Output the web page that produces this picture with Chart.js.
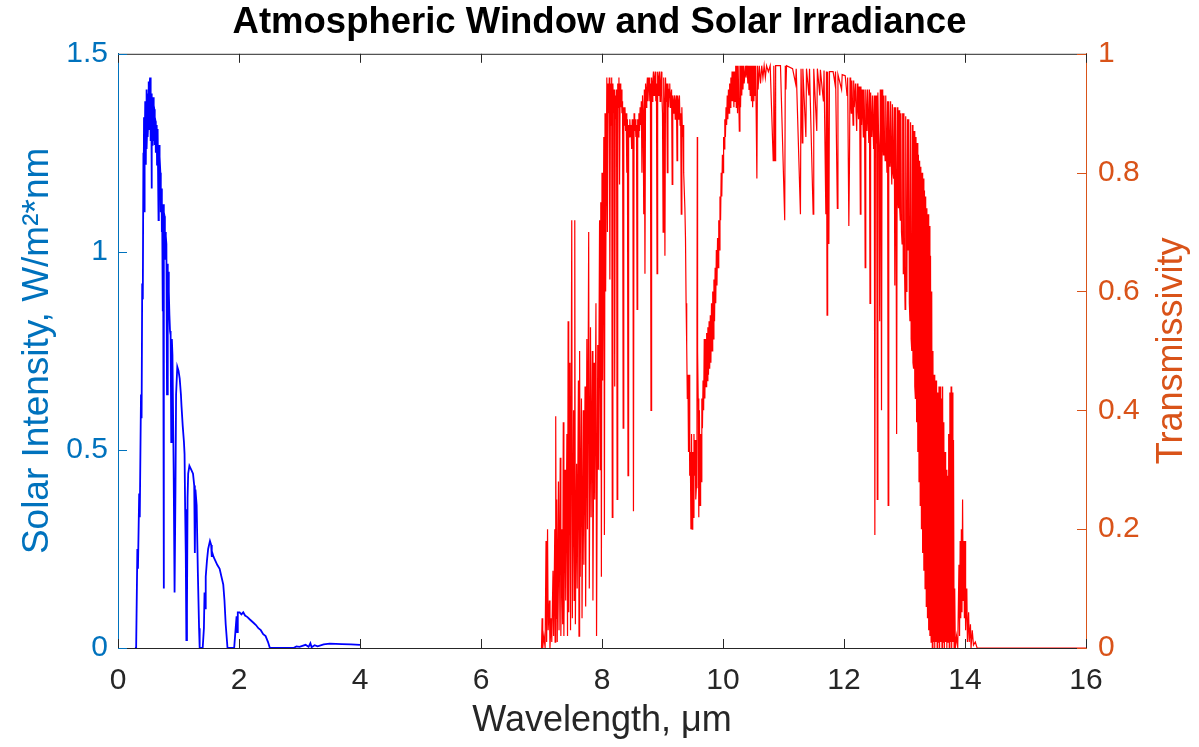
<!DOCTYPE html>
<html>
<head>
<meta charset="utf-8">
<script src="https://cdn.jsdelivr.net/npm/chart.js@4.4.1/dist/chart.umd.min.js"></script>
<style>
  body { margin: 0; background: #fff; }
  #wrap { width: 1199px; height: 747px; }
</style>
</head>
<body>
<div id="wrap"><canvas id="atmChart"></canvas></div>
<script>
// solar irradiance, [wavelength um, W/m^2*nm]
var solarData = [
  [0.28,0],[0.30,0],[0.32,0.25],[0.33,0.20],[0.35,0.39],[0.36,0.33],[0.38,0.64],[0.39,0.58],[0.40,0.92],[0.41,0.88],
  [0.42,1.25],[0.425,1.18],[0.43,1.34],[0.435,1.10],[0.44,1.30],[0.445,1.24],[0.45,1.38],[0.46,1.22],[0.465,1.36],[0.47,1.41],
  [0.475,1.26],[0.48,1.30],[0.485,1.38],[0.49,1.40],[0.495,1.29],[0.50,1.33],[0.505,1.40],[0.51,1.43],[0.515,1.31],[0.52,1.36],
  [0.525,1.42],[0.53,1.44],[0.535,1.33],[0.54,1.28],[0.545,1.39],[0.55,1.40],[0.555,1.16],[0.56,1.38],[0.565,1.27],[0.57,1.30],
  [0.575,1.36],[0.58,1.39],[0.585,1.28],[0.59,1.32],[0.595,1.37],[0.60,1.36],[0.605,1.27],[0.61,1.34],[0.62,1.33],[0.625,1.25],
  [0.63,1.30],[0.64,1.32],[0.645,1.22],[0.65,1.28],[0.66,1.31],[0.67,1.08],[0.675,1.26],[0.68,1.27],[0.685,1.18],[0.69,1.24],
  [0.70,1.20],[0.705,1.10],[0.71,1.14],[0.72,1.16],[0.725,1.05],[0.73,1.10],[0.74,0.85],[0.745,1.12],[0.755,0.15],[0.76,1.10],
  [0.77,1.09],[0.775,0.98],[0.78,1.05],[0.79,1.04],[0.80,1.02],[0.81,0.64],[0.82,0.97],[0.825,0.90],[0.83,0.95],[0.84,0.90],
  [0.85,0.84],[0.86,0.80],[0.87,0.79],[0.88,0.52],[0.89,0.78],[0.90,0.74],[0.92,0.45],[0.935,0.14],[0.95,0.40],[0.96,0.64],
  [0.98,0.71],[1.00,0.70],[1.02,0.68],[1.04,0.64],[1.05,0.61],[1.07,0.56],[1.09,0.52],[1.10,0.49],[1.11,0.35],[1.12,0.24],
  [1.13,0.02],[1.14,0.10],[1.15,0.38],[1.16,0.44],[1.18,0.46],[1.21,0.45],[1.24,0.44],[1.26,0.41],[1.27,0.24],[1.28,0.40],
  [1.30,0.36],[1.32,0.19],[1.34,0.05],[1.35,0],[1.40,0],[1.42,0.05],[1.43,0.14],[1.44,0.10],[1.45,0.18],[1.47,0.22],
  [1.49,0.25],[1.52,0.27],[1.54,0.26],[1.55,0.23],[1.56,0.24],[1.58,0.23],[1.61,0.22],[1.64,0.21],[1.68,0.20],[1.71,0.18],
  [1.74,0.16],[1.76,0.12],[1.78,0.06],[1.81,0],[1.92,0],[1.94,0.04],[1.96,0.08],[1.97,0.04],[1.98,0.09],[2.01,0.09],
  [2.04,0.085],[2.07,0.09],[2.10,0.082],[2.14,0.078],[2.18,0.072],[2.23,0.065],[2.28,0.058],[2.32,0.05],[2.36,0.045],[2.40,0.035],
  [2.44,0.03],[2.48,0.015],[2.51,0],[2.90,0],[2.95,0.004],[3.00,0.003],[3.10,0.008],[3.15,0.003],[3.18,0.012],[3.20,0.002],
  [3.25,0.007],[3.30,0.004],[3.40,0.009],[3.50,0.011],[3.70,0.01],[3.85,0.009],[4.00,0.008]
];

// atmospheric transmissivity, [wavelength um, fraction]
var transData = [
  [7.00,0],[7.01,0.05],[7.02,0],[7.04,0.02],[7.06,0],[7.075,0.18],[7.085,0.01],[7.10,0.20],[7.11,0.03],[7.13,0.08],
  [7.14,0],[7.16,0.05],[7.17,0.01],[7.19,0.13],[7.20,0.02],[7.22,0.20],[7.225,0.01],[7.235,0.39],[7.245,0.05],[7.25,0.25],
  [7.26,0.01],[7.28,0.28],[7.29,0.03],[7.31,0.32],[7.32,0.02],[7.34,0.20],[7.35,0.04],[7.36,0.38],[7.37,0.02],[7.39,0.30],
  [7.40,0.08],[7.42,0.36],[7.43,0.02],[7.44,0.55],[7.45,0.06],[7.47,0.48],[7.48,0.03],[7.50,0.72],[7.51,0.05],[7.53,0.40],
  [7.54,0.08],[7.55,0.72],[7.56,0.04],[7.58,0.31],[7.59,0.10],[7.61,0.45],[7.62,0.02],[7.63,0.50],[7.64,0.12],[7.66,0.42],
  [7.67,0.05],[7.69,0.40],[7.70,0.14],[7.72,0.44],[7.73,0.07],[7.75,0.52],[7.76,0.20],[7.78,0.70],[7.79,0.10],[7.81,0.54],
  [7.82,0.22],[7.84,0.50],[7.85,0.08],[7.87,0.48],[7.88,0.25],[7.90,0.58],[7.91,0.02],[7.93,0.51],[7.94,0.30],[7.96,0.72],
  [7.97,0.30],[7.98,0.75],[7.99,0.12],[8.00,0.80],[8.01,0.45],[8.03,0.86],[8.04,0.19],[8.05,0.90],[8.06,0.60],[8.08,0.96],
  [8.09,0.70],[8.10,0.95],[8.11,0.90],[8.12,0.96],[8.13,0.62],[8.14,0.95],[8.15,0.88],[8.16,0.96],[8.17,0.22],[8.18,0.95],
  [8.19,0.90],[8.20,0.94],[8.21,0.44],[8.22,0.93],[8.23,0.89],[8.24,0.94],[8.25,0.25],[8.26,0.95],[8.27,0.91],[8.28,0.96],
  [8.29,0.78],[8.30,0.95],[8.31,0.91],[8.32,0.94],[8.33,0.90],[8.34,0.92],[8.35,0.37],[8.36,0.91],[8.37,0.88],[8.38,0.91],
  [8.39,0.87],[8.40,0.90],[8.41,0.80],[8.42,0.89],[8.43,0.29],[8.44,0.88],[8.45,0.86],[8.46,0.89],[8.47,0.86],[8.48,0.88],
  [8.49,0.84],[8.50,0.89],[8.51,0.87],[8.52,0.23],[8.53,0.90],[8.54,0.87],[8.55,0.89],[8.56,0.86],[8.57,0.88],[8.58,0.57],
  [8.59,0.89],[8.60,0.86],[8.61,0.90],[8.62,0.87],[8.63,0.91],[8.64,0.88],[8.65,0.92],[8.66,0.80],[8.67,0.93],[8.68,0.90],
  [8.69,0.73],[8.70,0.94],[8.71,0.63],[8.72,0.95],[8.73,0.91],[8.74,0.94],[8.75,0.96],[8.76,0.92],[8.77,0.95],[8.78,0.96],
  [8.79,0.92],[8.80,0.95],[8.81,0.40],[8.82,0.96],[8.83,0.92],[8.84,0.95],[8.85,0.97],[8.86,0.93],[8.87,0.96],[8.88,0.97],
  [8.89,0.92],[8.90,0.95],[8.91,0.63],[8.92,0.97],[8.93,0.93],[8.94,0.96],[8.95,0.97],[8.96,0.92],[8.97,0.95],[8.98,0.97],
  [8.99,0.93],[9.00,0.90],[9.01,0.70],[9.02,0.96],[9.03,0.92],[9.04,0.66],[9.05,0.96],[9.06,0.92],[9.07,0.95],[9.08,0.80],
  [9.09,0.95],[9.10,0.91],[9.11,0.94],[9.12,0.95],[9.13,0.91],[9.14,0.93],[9.15,0.94],[9.16,0.78],[9.17,0.93],[9.18,0.90],
  [9.19,0.92],[9.20,0.93],[9.21,0.89],[9.22,0.92],[9.23,0.93],[9.24,0.82],[9.25,0.93],[9.26,0.89],[9.27,0.92],[9.28,0.93],
  [9.29,0.88],[9.30,0.90],[9.31,0.73],[9.32,0.91],[9.33,0.86],[9.34,0.88],[9.35,0.80],[9.37,0.74],[9.38,0.69],[9.39,0.58],
  [9.40,0.51],[9.41,0.42],[9.42,0.46],[9.43,0.33],[9.44,0.46],[9.45,0.29],[9.46,0.33],[9.47,0.20],[9.48,0.36],[9.49,0.20],
  [9.50,0.33],[9.51,0.22],[9.52,0.36],[9.53,0.29],[9.54,0.35],[9.55,0.25],[9.56,0.27],[9.57,0.55],[9.575,0.86],[9.58,0.50],
  [9.59,0.42],[9.60,0.22],[9.61,0.40],[9.62,0.24],[9.63,0.36],[9.64,0.28],[9.65,0.42],[9.66,0.37],[9.67,0.45],[9.68,0.40],
  [9.69,0.52],[9.70,0.42],[9.71,0.52],[9.72,0.44],[9.73,0.53],[9.74,0.45],[9.75,0.54],[9.76,0.46],[9.77,0.55],[9.78,0.47],
  [9.79,0.56],[9.80,0.48],[9.81,0.58],[9.82,0.50],[9.83,0.60],[9.84,0.52],[9.85,0.62],[9.86,0.55],[9.87,0.64],[9.88,0.58],
  [9.89,0.67],[9.90,0.61],[9.91,0.69],[9.92,0.64],[9.93,0.72],[9.94,0.67],[9.95,0.76],[9.96,0.72],[9.97,0.80],[9.98,0.76],
  [9.99,0.83],[10.00,0.80],[10.01,0.86],[10.02,0.84],[10.03,0.89],[10.04,0.86],[10.05,0.91],[10.06,0.88],[10.07,0.93],[10.08,0.89],
  [10.09,0.94],[10.10,0.90],[10.11,0.95],[10.12,0.91],[10.13,0.96],[10.14,0.92],[10.15,0.97],[10.16,0.92],[10.17,0.97],[10.18,0.91],
  [10.19,0.97],[10.20,0.92],[10.21,0.98],[10.22,0.91],[10.23,0.98],[10.24,0.90],[10.25,0.98],[10.27,0.87],[10.28,0.98],[10.29,0.91],
  [10.30,0.98],[10.31,0.93],[10.32,0.98],[10.33,0.94],[10.34,0.98],[10.35,0.95],[10.37,0.98],[10.38,0.96],[10.40,0.98],[10.41,0.95],
  [10.42,0.98],[10.43,0.94],[10.44,0.98],[10.45,0.93],[10.46,0.98],[10.47,0.92],[10.48,0.98],[10.49,0.91],[10.50,0.98],[10.51,0.92],
  [10.52,0.98],[10.53,0.93],[10.54,0.98],[10.56,0.79],[10.57,0.98],[10.58,0.94],[10.60,0.98],[10.62,0.95],[10.64,0.98],[10.66,0.96],
  [10.68,0.98],[10.70,0.96],[10.72,0.98],[10.75,0.97],[10.78,0.98],[10.83,0.82],[10.84,0.98],[10.86,0.82],[10.87,0.98],[10.95,0.98],
  [11.02,0.72],[11.03,0.98],[11.04,0.94],[11.05,0.98],[11.15,0.975],[11.20,0.95],[11.21,0.975],[11.28,0.73],[11.29,0.975],[11.31,0.85],
  [11.32,0.975],[11.37,0.86],[11.38,0.975],[11.42,0.93],[11.43,0.975],[11.49,0.73],[11.50,0.975],[11.55,0.87],[11.56,0.975],[11.60,0.93],
  [11.61,0.973],[11.66,0.92],[11.67,0.972],[11.70,0.73],[11.71,0.97],[11.72,0.56],[11.73,0.97],[11.75,0.68],[11.76,0.97],[11.82,0.97],
  [11.85,0.95],[11.86,0.97],[11.89,0.74],[11.90,0.965],[11.96,0.94],[11.97,0.965],[12.02,0.963],[12.05,0.93],[12.06,0.96],[12.08,0.71],
  [12.09,0.81],[12.10,0.96],[12.11,0.92],[12.12,0.90],[12.13,0.955],[12.14,0.92],[12.15,0.88],[12.16,0.955],[12.17,0.91],[12.18,0.91],
  [12.19,0.95],[12.20,0.90],[12.21,0.87],[12.22,0.95],[12.23,0.91],[12.24,0.89],[12.25,0.945],[12.26,0.90],[12.27,0.73],[12.28,0.945],
  [12.29,0.88],[12.30,0.94],[12.31,0.90],[12.32,0.86],[12.33,0.94],[12.34,0.89],[12.35,0.64],[12.36,0.94],[12.37,0.90],[12.38,0.87],
  [12.39,0.94],[12.40,0.89],[12.41,0.85],[12.42,0.94],[12.43,0.58],[12.44,0.935],[12.45,0.88],[12.46,0.86],[12.47,0.93],[12.48,0.88],
  [12.49,0.84],[12.50,0.93],[12.51,0.19],[12.52,0.93],[12.53,0.85],[12.54,0.93],[12.55,0.25],[12.56,0.935],[12.57,0.87],[12.58,0.84],
  [12.59,0.55],[12.60,0.94],[12.61,0.86],[12.62,0.40],[12.63,0.94],[12.64,0.86],[12.65,0.83],[12.66,0.93],[12.67,0.85],[12.68,0.82],
  [12.69,0.93],[12.70,0.84],[12.71,0.80],[12.72,0.92],[12.73,0.24],[12.74,0.92],[12.75,0.83],[12.76,0.81],[12.77,0.92],[12.78,0.82],
  [12.79,0.78],[12.80,0.915],[12.81,0.80],[12.82,0.79],[12.83,0.91],[12.84,0.61],[12.85,0.91],[12.86,0.78],[12.87,0.36],[12.88,0.91],
  [12.89,0.76],[12.90,0.74],[12.91,0.905],[12.92,0.74],[12.93,0.72],[12.94,0.90],[12.95,0.70],[12.96,0.68],[12.97,0.90],[12.98,0.63],
  [12.99,0.90],[13.00,0.64],[13.01,0.57],[13.02,0.895],[13.03,0.60],[13.04,0.62],[13.05,0.89],[13.06,0.67],[13.07,0.89],[13.08,0.58],
  [13.09,0.55],[13.10,0.885],[13.11,0.52],[13.12,0.50],[13.13,0.88],[13.14,0.48],[13.15,0.47],[13.16,0.87],[13.17,0.44],[13.18,0.42],
  [13.19,0.86],[13.20,0.38],[13.21,0.85],[13.22,0.33],[13.23,0.83],[13.24,0.28],[13.25,0.82],[13.26,0.24],[13.27,0.81],[13.28,0.20],
  [13.29,0.80],[13.30,0.16],[13.31,0.79],[13.32,0.13],[13.33,0.77],[13.34,0.10],[13.35,0.76],[13.36,0.07],[13.37,0.74],[13.38,0.05],
  [13.39,0.73],[13.40,0.03],[13.41,0.71],[13.42,0.02],[13.43,0.66],[13.44,0.01],[13.45,0.60],[13.46,0],[13.47,0.50],[13.48,0.01],
  [13.49,0.46],[13.50,0],[13.51,0.45],[13.52,0.01],[13.53,0.45],[13.54,0],[13.55,0.43],[13.56,0.01],[13.57,0.44],[13.58,0],
  [13.59,0.44],[13.60,0.01],[13.61,0.42],[13.62,0],[13.63,0.44],[13.64,0.01],[13.65,0.38],[13.66,0],[13.67,0.33],[13.68,0.01],
  [13.69,0.30],[13.70,0],[13.71,0.29],[13.72,0.01],[13.73,0.36],[13.74,0],[13.75,0.43],[13.76,0.01],[13.77,0.44],[13.78,0],
  [13.79,0.43],[13.80,0.01],[13.81,0.35],[13.82,0],[13.83,0.10],[13.84,0],[13.86,0.02],[13.88,0],[13.90,0.14],[13.91,0.02],
  [13.92,0.18],[13.93,0.05],[13.94,0.20],[13.95,0.06],[13.96,0.25],[13.97,0.08],[13.98,0.18],[13.99,0.05],[14.00,0.18],[14.01,0.03],
  [14.03,0.10],[14.04,0.01],[14.06,0.06],[14.07,0.01],[14.09,0.04],[14.10,0],[14.12,0.03],[14.14,0.005],[14.17,0.01],[14.20,0],
  [16.00,0]
];

var xTicks = [0, 2, 4, 6, 8, 10, 12, 14, 16];
var leftTicks = [0, 0.5, 1, 1.5];
var rightTicks = [0, 0.2, 0.4, 0.6, 0.8, 1];

var FONT = '"Liberation Sans", Arial, Helvetica, sans-serif';
var GRAY = '#262626';
var BLUE_AX = '#0072BD';
var ORANGE_AX = '#D95319';

function toPts(arr) {
  return arr.map(function (p) { return { x: p[0], y: p[1] }; });
}

function plainLabel(v) {
  return String(Math.round(v * 10) / 10);
}

// MATLAB-like box: top edge, inward tick marks, right axis label reading upward
var boxTicks = {
  id: 'boxTicks',
  afterDraw: function (chart) {
    var ctx = chart.ctx, a = chart.chartArea;
    var sx = chart.scales.x, sl = chart.scales.yL, sr = chart.scales.yR;
    var len = 9;
    ctx.save();
    ctx.lineWidth = 1;
    ctx.strokeStyle = GRAY;
    ctx.beginPath();
    ctx.moveTo(a.left, a.top + 0.5);
    ctx.lineTo(a.right, a.top + 0.5);
    xTicks.forEach(function (v) {
      var px = Math.round(sx.getPixelForValue(v)) + 0.5;
      ctx.moveTo(px, a.bottom);
      ctx.lineTo(px, a.bottom - len);
      ctx.moveTo(px, a.top);
      ctx.lineTo(px, a.top + len);
    });
    ctx.stroke();
    ctx.strokeStyle = BLUE_AX;
    ctx.beginPath();
    leftTicks.forEach(function (v) {
      var py = Math.round(sl.getPixelForValue(v)) + 0.5;
      ctx.moveTo(a.left, py);
      ctx.lineTo(a.left + len, py);
    });
    ctx.stroke();
    ctx.strokeStyle = ORANGE_AX;
    ctx.beginPath();
    rightTicks.forEach(function (v) {
      var py = Math.round(sr.getPixelForValue(v)) + 0.5;
      ctx.moveTo(a.right, py);
      ctx.lineTo(a.right - len, py);
    });
    ctx.stroke();

    ctx.translate(1172, (a.top + a.bottom) / 2);
    ctx.rotate(-Math.PI / 2);
    ctx.fillStyle = ORANGE_AX;
    ctx.font = '36px ' + FONT;
    ctx.textAlign = 'center';
    ctx.textBaseline = 'middle';
    ctx.fillText('Transmissivity', 0, 0);
    ctx.restore();
  }
};

var ctx = document.getElementById('atmChart');
new Chart(ctx, {
  type: 'line',
  data: {
    datasets: [{
      label: 'Solar Intensity',
      data: toPts(solarData),
      yAxisID: 'yL',
      borderColor: '#0000FF',
      borderWidth: 1.8,
      pointRadius: 0,
      tension: 0,
      fill: false
    }, {
      label: 'Transmissivity',
      data: toPts(transData),
      yAxisID: 'yR',
      borderColor: '#FF0000',
      borderWidth: 1.2,
      pointRadius: 0,
      tension: 0,
      fill: false
    }]
  },
  options: {
    responsive: true,
    maintainAspectRatio: false,
    animation: false,
    layout: { padding: 0 },
    plugins: {
      legend: { display: false },
      tooltip: { enabled: false },
      title: {
        display: true,
        text: 'Atmospheric Window and Solar Irradiance',
        color: '#000',
        font: { family: FONT, size: 36.5, weight: 'bold' },
        padding: { top: 1, bottom: 9 }
      }
    },
    scales: {
      x: {
        type: 'linear',
        min: 0,
        max: 16,
        afterBuildTicks: function (s) { s.ticks = xTicks.map(function (v) { return { value: v }; }); },
        afterFit: function (s) { s.height = 99; },
        grid: { display: true, drawOnChartArea: false, drawTicks: false },
        border: { display: true, color: GRAY, width: 1 },
        ticks: { color: GRAY, padding: 15, maxRotation: 0, font: { family: FONT, size: 30 } },
        title: {
          display: true,
          text: 'Wavelength, \u03BCm',
          color: GRAY,
          font: { family: FONT, size: 36 },
          padding: { top: 0, bottom: 4 }
        }
      },
      yL: {
        type: 'linear',
        position: 'left',
        min: 0,
        max: 1.5,
        afterBuildTicks: function (s) { s.ticks = leftTicks.map(function (v) { return { value: v }; }); },
        afterFit: function (s) { s.width = 118; },
        grid: { display: true, drawOnChartArea: false, drawTicks: false },
        border: { display: true, color: BLUE_AX, width: 1 },
        ticks: { color: BLUE_AX, padding: 10, callback: plainLabel, font: { family: FONT, size: 30 } },
        title: {
          display: true,
          text: 'Solar Intensity, W/m\u00B2*nm',
          color: BLUE_AX,
          font: { family: FONT, size: 37 },
          padding: { top: 16, bottom: 0 }
        }
      },
      yR: {
        type: 'linear',
        position: 'right',
        min: 0,
        max: 1,
        afterBuildTicks: function (s) { s.ticks = rightTicks.map(function (v) { return { value: v }; }); },
        afterFit: function (s) { s.width = 113; },
        grid: { display: true, drawOnChartArea: false, drawTicks: false },
        border: { display: true, color: ORANGE_AX, width: 1 },
        ticks: { color: ORANGE_AX, padding: 12, callback: plainLabel, font: { family: FONT, size: 30 } },
        title: { display: false }
      }
    }
  },
  plugins: [boxTicks]
});
</script>
</body>
</html>
